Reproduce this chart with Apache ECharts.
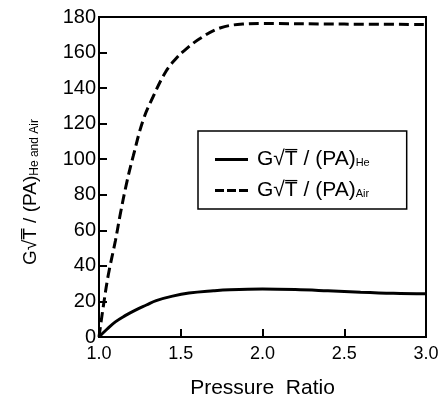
<!DOCTYPE html>
<html>
<head>
<meta charset="utf-8">
<script src="https://cdn.jsdelivr.net/npm/echarts@6/dist/echarts.min.js"></script>
<style>
  html, body { margin: 0; padding: 0; background: #fff; }
  #chart { width: 443px; height: 404px; }
</style>
</head>
<body>
<div id="chart"></div>
<script>
// pressure ratio / value pairs
const heliumPoints = [
    [1.0, 0], [1.05, 4.5], [1.1, 8.5], [1.16, 12], [1.22, 15], [1.29, 18],
    [1.35, 20.5], [1.45, 23], [1.55, 24.7], [1.7, 26], [1.8, 26.6],
    [2.0, 27], [2.2, 26.7], [2.4, 26], [2.6, 25.2], [2.8, 24.6], [3.0, 24.3]
];
const airPoints = [
    [1.0, 0], [1.026, 17], [1.057, 35], [1.1, 54], [1.13, 69], [1.17, 87],
    [1.21, 102], [1.27, 122], [1.33, 135], [1.41, 149.5], [1.47, 156.5],
    [1.52, 161], [1.62, 168], [1.74, 173.8], [1.88, 176], [2.0, 176.3],
    [2.5, 176], [3.0, 175.8]
];
const seriesNames = ['He', 'Air'];
const xTicks = { min: 1.0, max: 3.0, step: 0.5 };
const yTicks = { min: 0, max: 180, step: 20 };

const chart = echarts.init(document.getElementById('chart'));
const font = 'Liberation Sans, Arial, sans-serif';

// legend keys drawn as little bars: one solid, one of three dashes
const legendIcons = {
    He: 'path://M0,0h33v3h-33z',
    Air: 'path://M0,0h9v3h-9z M12,0h9v3h-9z M24,0h9v3h-9z'
};

chart.setOption({
    animation: false,
    backgroundColor: '#fff',
    grid: {
        left: 99, right: 17, top: 17, bottom: 59,
        show: true,
        borderColor: '#000',
        borderWidth: 2
    },
    legend: {
        orient: 'vertical',
        left: 198,
        top: 131,
        padding: [18, 37, 8, 17],
        itemGap: 10,
        itemWidth: 33,
        itemHeight: 14,
        borderColor: '#000',
        borderWidth: 1.5,
        backgroundColor: '#fff',
        data: seriesNames.map(n => ({ name: n, icon: legendIcons[n] })),
        formatter: name => '{m|G\u221AT\u0305 / (PA)}{s|' + name + '}',
        textStyle: {
            color: '#000',
            fontFamily: font,
            rich: {
                m: { fontSize: 21, fontFamily: font, color: '#000', padding: [0, 0, 0, 4] },
                s: { fontSize: 11, fontFamily: font, color: '#000', padding: [7, 0, 0, 0] }
            }
        }
    },
    xAxis: {
        type: 'value',
        min: xTicks.min,
        max: xTicks.max,
        interval: xTicks.step,
        name: 'Pressure  Ratio',
        nameLocation: 'middle',
        nameGap: 41,
        nameTextStyle: { fontFamily: font, fontSize: 21, color: '#000' },
        axisLine: { show: true, lineStyle: { color: '#000', width: 2 } },
        axisTick: { show: true, inside: true, length: 8, lineStyle: { color: '#000', width: 2 } },
        axisLabel: {
            fontFamily: font, fontSize: 18, color: '#000', margin: 8,
            formatter: v => v.toFixed(1)
        },
        splitLine: { show: false }
    },
    yAxis: {
        type: 'value',
        min: yTicks.min,
        max: yTicks.max,
        interval: yTicks.step,
        name: '{m|G\u221AT\u0305 / (PA)}{s|He and Air}',
        nameLocation: 'middle',
        nameRotate: 90,
        nameGap: 58,
        nameTextStyle: {
            color: '#000',
            padding: [0, 30, 0, 0],
            rich: {
                m: { fontSize: 19, fontFamily: font, color: '#000' },
                s: { fontSize: 12, fontFamily: font, color: '#000', padding: [8, 0, 0, 0] }
            }
        },
        axisLine: { show: true, lineStyle: { color: '#000', width: 2 } },
        axisTick: { show: true, inside: true, length: 8, lineStyle: { color: '#000', width: 2 } },
        axisLabel: { fontFamily: font, fontSize: 20, color: '#000', margin: 3 },
        splitLine: { show: false }
    },
    series: [
        {
            name: seriesNames[0],
            type: 'line',
            data: heliumPoints,
            symbol: 'none',
            smooth: 0.4,
            color: '#000',
            lineStyle: { color: '#000', width: 3 }
        },
        {
            name: seriesNames[1],
            type: 'line',
            data: airPoints,
            symbol: 'none',
            smooth: 0.4,
            color: '#000',
            lineStyle: { color: '#000', width: 3, type: [10, 5] }
        }
    ]
});
</script>
</body>
</html>
